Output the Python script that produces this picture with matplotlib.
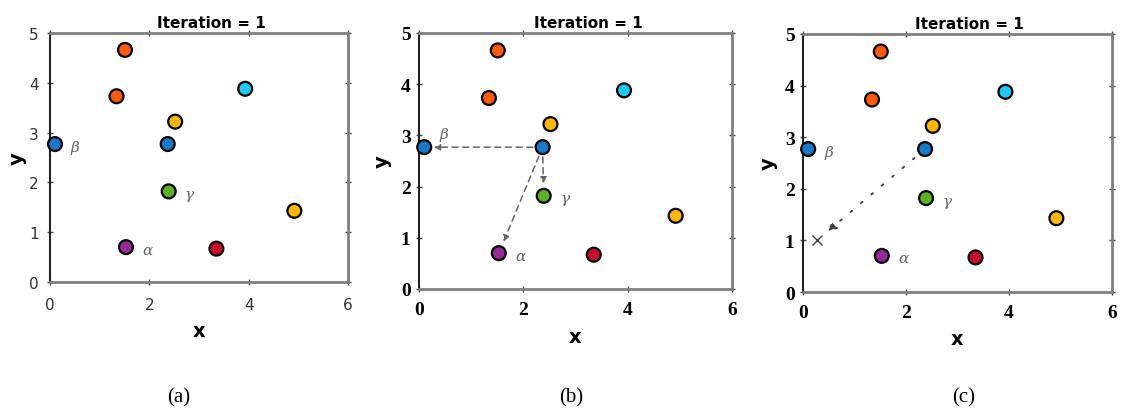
import matplotlib
matplotlib.use('Agg')
import matplotlib.pyplot as plt

# point data (same in every panel)
px = [1.51, 1.34, 3.93, 2.52, 0.10, 2.37, 2.39, 4.92, 1.53, 3.35]
py = [4.66, 3.73, 3.88, 3.22, 2.77, 2.77, 1.82, 1.43, 0.70, 0.67]
pcolors = ['#ff5a10', '#ff5a10', '#1ec8f0', '#ffb60a', '#1a78c8',
           '#1a78c8', '#5db024', '#ffb60a', '#962a96', '#c8102e']

# indices of labelled points
i_alpha, i_beta, i_gamma, i_src = 8, 4, 6, 5
cross_x, cross_y = 0.27, 1.0

xticks = [0, 2, 4, 6]
yticks = [0, 1, 2, 3, 4, 5]
title = 'Iteration = 1'
captions = ['(a)', '(b)', '(c)']

W, H = 1121, 414
fig = plt.figure(figsize=(W / 100, H / 100), dpi=100)

# axes boxes in pixels: left, right, top, bottom
boxes = [(50, 348, 34, 283), (419, 732, 34, 290), (803, 1112, 35, 293)]
cap_x = [179, 571, 964]
ylab_x = [17, 382, 768]
xlab_y = [332, 338, 340]

greek = dict(family='DejaVu Serif', style='italic', color='#666666', fontsize=11)
serif_bold = dict(family='Liberation Serif', fontweight='bold', fontsize=14)

for k, (l, r, t, b) in enumerate(boxes):
    ax = fig.add_axes([l / W, 1 - b / H, (r - l) / W, (b - t) / H])
    ax.set_xlim(0, 6)
    ax.set_ylim(0, 5)
    ax.set_xticks(xticks)
    ax.set_yticks(yticks)
    for side in ['top', 'right', 'bottom']:
        ax.spines[side].set_color('#808080')
        ax.spines[side].set_linewidth(2.0)
    ax.spines['left'].set_color('#222222')
    ax.spines['left'].set_linewidth(1.5)
    ax.tick_params(direction='inout', length=4, width=1, color='#444444',
                   top=True, right=True)
    if k == 0:
        ax.tick_params(axis='x', pad=9, labelsize=11, labelcolor='#333333')
        ax.tick_params(axis='y', pad=6, labelsize=11, labelcolor='#333333')
    else:
        ax.set_xticklabels([str(v) for v in xticks], fontdict=serif_bold)
        ax.set_yticklabels([str(v) for v in yticks], fontdict=serif_bold)
        ax.tick_params(axis='x', pad=7)
        ax.tick_params(axis='y', pad=4)

    # arrows first so the markers sit on top
    if k == 1:
        for tgt, sb in [(i_beta, 7), (i_gamma, 9), (i_alpha, 9)]:
            ax.annotate('', xy=(px[tgt], py[tgt]), xytext=(px[i_src], py[i_src]),
                        arrowprops=dict(arrowstyle='-|>,head_length=0.35,head_width=0.18',
                                        linestyle=(0, (4, 3)), color='#666666',
                                        lw=1.1, shrinkA=7, shrinkB=sb))
    if k == 2:
        ax.annotate('', xy=(cross_x, cross_y), xytext=(px[i_src], py[i_src]),
                    arrowprops=dict(arrowstyle='-|>,head_length=0.6,head_width=0.25',
                                    linestyle=(0, (1, 6)), color='#444444',
                                    lw=1.4, shrinkA=10, shrinkB=9))
        ax.plot([cross_x], [cross_y], marker='x', color='#444444',
                markersize=7, mew=1.0, linestyle='none')

    ax.scatter(px, py, s=100, c=pcolors, edgecolors='black', linewidths=1.6,
               zorder=5, clip_on=False)

    ax.text(px[i_alpha] + 0.32, py[i_alpha] - 0.05, 'α', va='center', **greek)
    ax.text(px[i_gamma] + 0.32, py[i_gamma] - 0.05, 'γ', va='center', **greek)
    if k == 1:
        ax.text(px[i_beta] + 0.3, py[i_beta] + 0.25, 'β', va='center', **greek)
    else:
        ax.text(px[i_beta] + 0.32, py[i_beta] - 0.05, 'β', va='center', **greek)

    ax.set_title(title, fontsize=11, fontweight='bold', pad=4, x=0.54)

    fig.text(ylab_x[k] / W, 1 - ((t + b) / 2) / H, 'y', rotation=90,
             ha='center', va='center', fontsize=14, fontweight='bold')
    fig.text(((l + r) / 2) / W, 1 - xlab_y[k] / H, 'x',
             ha='center', va='center', fontsize=14, fontweight='bold')
    fig.text(cap_x[k] / W, 1 - 398 / H, captions[k], ha='center', va='center',
             fontsize=15, family='Liberation Serif')

fig.savefig('out.png', dpi=100)
